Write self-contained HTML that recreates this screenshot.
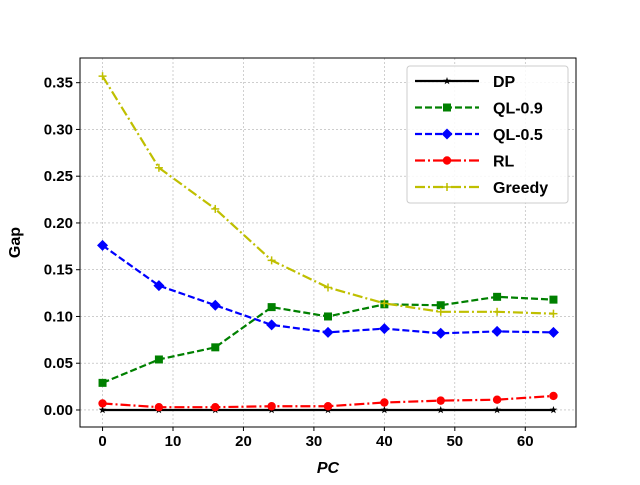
<!DOCTYPE html>
<html><head><meta charset="utf-8"><style>
body{margin:0;background:#fff;}
svg text{font-family:"Liberation Sans","DejaVu Sans",sans-serif;font-weight:bold;}
</style></head><body>
<svg id="chart" width="640" height="480" xmlns="http://www.w3.org/2000/svg"></svg>
<script>
const xValues=[0,8,16,24,32,40,48,56,64];
const dpValues=[0,0,0,0,0,0,0,0,0];
const ql09Values=[0.029,0.054,0.067,0.110,0.100,0.113,0.112,0.121,0.118];
const ql05Values=[0.176,0.133,0.112,0.091,0.083,0.087,0.082,0.084,0.083];
const rlValues=[0.007,0.003,0.003,0.004,0.004,0.008,0.010,0.011,0.015];
const greedyValues=[0.357,0.259,0.215,0.160,0.131,0.114,0.105,0.105,0.103];
const xTicks=[0,10,20,30,40,50,60];
const yTicks=[0,0.05,0.10,0.15,0.20,0.25,0.30,0.35];
const yTickLabels=["0.00","0.05","0.10","0.15","0.20","0.25","0.30","0.35"];

const L=80,R=576,T=58,B=427;
const xMin=-3.2,xMax=67.2,yMin=-0.0182,yMax=0.3764;
const sx=v=>L+(v-xMin)/(xMax-xMin)*(R-L);
const sy=v=>B-(v-yMin)/(yMax-yMin)*(B-T);
const svg=document.getElementById('chart');
const NS='http://www.w3.org/2000/svg';
function mk(tag,attrs,parent){const e=document.createElementNS(NS,tag);for(const k in attrs)e.setAttribute(k,attrs[k]);(parent||svg).appendChild(e);return e;}

xTicks.forEach(t=>{const l=mk('line',{x1:sx(t),x2:sx(t),y1:T,y2:B,stroke:'#b0b0b0','stroke-width':0.6,'stroke-dasharray':'2,2'});

});
yTicks.forEach(t=>{const l=mk('line',{x1:L,x2:R,y1:sy(t),y2:sy(t),stroke:'#b0b0b0','stroke-width':0.6,'stroke-dasharray':'2,2'});

});

xTicks.forEach(t=>{mk('line',{x1:sx(t),x2:sx(t),y1:B,y2:B+4,stroke:'#000'});
const tx=mk('text',{x:sx(t),y:B+19,'font-size':15,'text-anchor':'middle'});tx.textContent=t;

});
yTicks.forEach((t,i)=>{mk('line',{x1:L-4,x2:L,y1:sy(t),y2:sy(t),stroke:'#000'});
const tx=mk('text',{x:L-7,y:sy(t)+5,'font-size':15,'text-anchor':'end'});tx.textContent=yTickLabels[i];

});

const xt=mk('text',{x:(L+R)/2,y:473,'font-size':16,'text-anchor':'middle','font-style':'italic'});xt.textContent='PC';


const yt=mk('text',{x:20,y:(T+B)/2,'font-size':16,'text-anchor':'middle',transform:`rotate(-90 20 ${(T+B)/2})`});yt.textContent='Gap';



function marker(g,type,x,y,c){
 if(type==='star'){const p=[];for(let i=0;i<10;i++){const r=i%2?1.6:4,a=-Math.PI/2+i*Math.PI/5;p.push((x+r*Math.cos(a))+','+(y+r*Math.sin(a)));}mk('polygon',{points:p.join(' '),fill:c},g);}
 else if(type==='square')mk('rect',{x:x-4,y:y-4,width:8,height:8,fill:c},g);
 else if(type==='diamond')mk('polygon',{points:`${x},${y-5.5} ${x+5.5},${y} ${x},${y+5.5} ${x-5.5},${y}`,fill:c},g);
 else if(type==='circle')mk('circle',{cx:x,cy:y,r:4.2,fill:c},g);
 else if(type==='plus'){mk('line',{x1:x-4,x2:x+4,y1:y,y2:y,stroke:c,'stroke-width':1.5},g);mk('line',{x1:x,x2:x,y1:y-4,y2:y+4,stroke:c,'stroke-width':1.5},g);}
}
const series=[
 {name:'DP',vals:dpValues,c:'#000000',dash:'',m:'star'},
 {name:'QL-0.9',vals:ql09Values,c:'#008000',dash:'7,3',m:'square'},
 {name:'QL-0.5',vals:ql05Values,c:'#0000ff',dash:'7,3',m:'diamond'},
 {name:'RL',vals:rlValues,c:'#ff0000',dash:'10,3,2,3',m:'circle'},
 {name:'Greedy',vals:greedyValues,c:'#bfbf00',dash:'10,3,2,3',m:'plus'}
];
series.forEach(s=>{
 const g=mk('g',{});
 
 
 mk('polyline',{points:s.vals.map((v,i)=>sx(xValues[i])+','+sy(v)).join(' '),fill:'none',stroke:s.c,'stroke-width':2.2,'stroke-dasharray':s.dash},g);
 s.vals.forEach((v,i)=>marker(g,s.m,sx(xValues[i]),sy(v),s.c));
});
mk('rect',{x:L,y:T,width:R-L,height:B-T,fill:'none',stroke:'#000','stroke-width':1});

const lg=mk('g',{});


mk('rect',{x:407,y:66,width:161,height:137,rx:3,fill:'#fff','fill-opacity':0.85,stroke:'#ccc'},lg);
series.forEach((s,i)=>{
 const y=81+i*26.5;
 const e=mk('g',{},lg);
 
 
 mk('line',{x1:415,x2:479,y1:y,y2:y,stroke:s.c,'stroke-width':2.2,'stroke-dasharray':s.dash},e);
 marker(e,s.m,447,y,s.c);
 const t=mk('text',{x:493,y:y+6,'font-size':16},e);t.textContent=s.name;
});
</script>
</body></html>
